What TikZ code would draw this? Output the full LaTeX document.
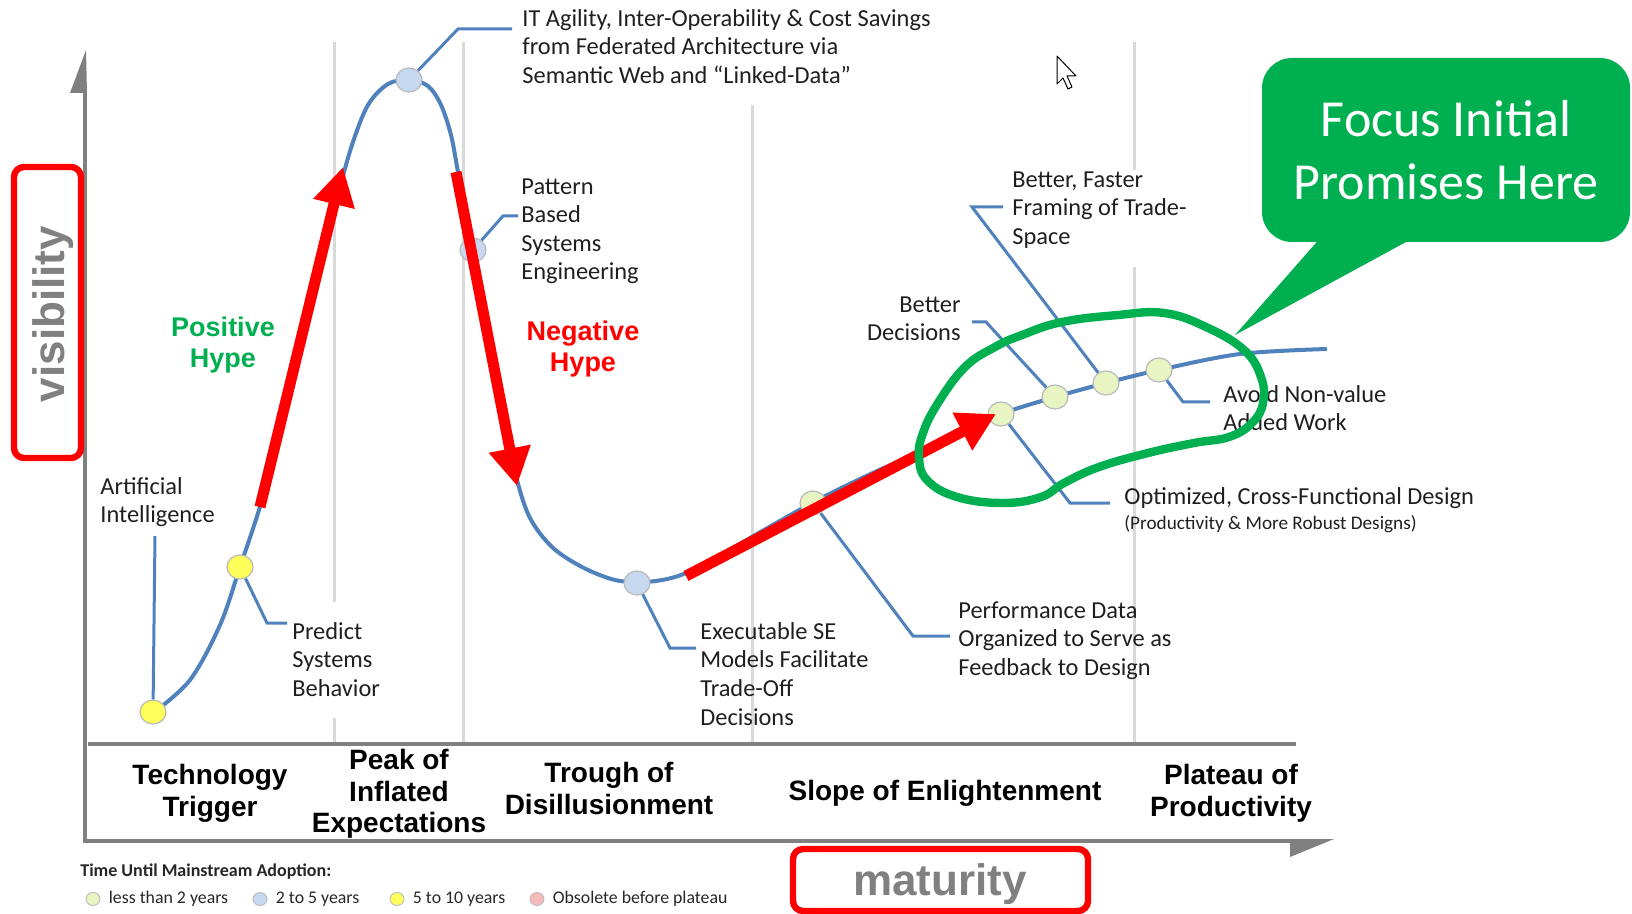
\documentclass[tikz,border=0pt]{standalone}
\usepackage{fontspec}
\setmainfont{Carlito}
\setsansfont{Liberation Sans}
\usetikzlibrary{positioning,arrows.meta,shapes.geometric}
\definecolor{curveblue}{RGB}{79,129,189}
\definecolor{hypered}{RGB}{255,0,0}
\definecolor{promisegreen}{RGB}{0,176,80}
\definecolor{axisgray}{RGB}{128,128,128}
\definecolor{gridgray}{RGB}{217,217,217}
\definecolor{dotyellow}{RGB}{255,255,90}
\definecolor{dotblue}{RGB}{198,217,241}
\definecolor{dotgreen}{RGB}{232,245,195}
\definecolor{dotpink}{RGB}{246,186,186}

\begin{document}
\begin{tikzpicture}[
    x=0.5pt, y=-0.5pt,
    sep/.style={draw=gridgray, line width=1.5pt},
    axis/.style={draw=axisgray, line width=2pt},
    hype/.style={draw=curveblue, line width=2pt},
    leader/.style={draw=curveblue, line width=1.5pt},
    dot/.style={ellipse, draw=gray!55, line width=0.6pt, minimum width=13pt,
                minimum height=12pt, inner sep=0pt},
    note/.style={font=\fontsize{12.2}{14.3}\selectfont, text=black!88, align=left, inner sep=0pt},
    phase/.style={font=\sffamily\bfseries\fontsize{14}{15.7}\selectfont, align=center,
                  inner sep=0pt, anchor=north},
    hypetxt/.style={font=\sffamily\bfseries\fontsize{13.5}{15.5}\selectfont, align=center, inner sep=0pt},
    hypearrow/.style={draw=hypered, line width=5.5pt, -{Triangle[length=19pt, width=20pt]}},
    redbox/.style={draw=hypered, line width=3.2pt, rounded corners=5pt},
    axislabel/.style={font=\sffamily\bfseries\fontsize{22}{26}\selectfont, text=axisgray, inner sep=0pt},
    legdot/.style={ellipse, draw=gray!50, line width=0.5pt, minimum width=7pt,
                   minimum height=6.5pt, inner sep=0pt},
    legtxt/.style={font=\fontsize{8.9}{10}\selectfont, text=black!85, inner sep=0pt}
]
\useasboundingbox (0,0) rectangle (1632,914);

% phase separators
\draw[sep] (334,42) -- (334,602);
\draw[sep] (334,718) -- (334,744);
\draw[sep] (463,42) -- (463,744);
\draw[sep] (752,105) -- (752,744);
\draw[sep] (1134,42) -- (1134,170);
\draw[sep] (1134,267) -- (1134,744);

% axes
\draw[axis] (85,93) -- (85,841) -- (1292,841);
\draw[axis] (88,744) -- (1296,744);
\fill[axisgray] (86,50) -- (87,93) -- (70,93) -- cycle;
\fill[axisgray] (1290,839) -- (1334,839) -- (1290,857) -- cycle;

% hype curve
\draw[hype] plot[smooth, tension=0.55] coordinates {
    (153,713) (190,680) (220,625) (240,567) (262,500) (282,422) (302,343)
    (322,260) (338,195) (352,145) (368,105) (388,84) (409,80) (428,86)
    (441,105) (451,135) (458,172) (468,225) (478,278) (488,330) (498,383)
    (508,435) (517,480) (530,518) (552,547) (582,567) (615,580) (645,582)
    (675,577) (705,564) (750,538) (812,503) (860,479) (910,456) (955,435)
    (1001,414) (1055,397) (1106,383) (1159,370) (1240,354) (1327,349)};

% dots on the curve
\node[dot, fill=dotyellow] (ai) at (153,712) {};
\node[dot, fill=dotyellow] (predict) at (240,567) {};
\node[dot, fill=dotblue] (peak) at (409,80) {};
\node[dot, fill=dotblue] (pattern) at (473,250) {};
\node[dot, fill=dotblue] (trough) at (637,583) {};
\node[dot, fill=dotgreen] (slopedot) at (813,503) {};
\node[dot, fill=dotgreen] (p1) at (1001,414) {};
\node[dot, fill=dotgreen] (p2) at (1055,397) {};
\node[dot, fill=dotgreen] (p3) at (1106,383) {};
\node[dot, fill=dotgreen] (p4) at (1159,370) {};

% notes
\node[note, anchor=north west] (lblIT) at (522,9)
    {IT Agility, Inter-Operability \& Cost Savings\\from Federated Architecture via\\Semantic Web and “Linked-Data”};
\node[note, anchor=north west] (lblPattern) at (521,178)
    {Pattern\\Based\\Systems\\Engineering};
\node[note, anchor=north west] (lblAI) at (100,477) {Artificial\\Intelligence};
\node[note, anchor=north west] (lblPredict) at (292,622) {Predict\\Systems\\Behavior};
\node[note, anchor=north west] (lblExec) at (700,622)
    {Executable SE\\Models Facilitate\\Trade-Off\\Decisions};
\node[note, anchor=north west] (lblPerf) at (958,601)
    {Performance Data\\Organized to Serve as\\Feedback to Design};
\node[note, anchor=north east, align=right] (lblBetter) at (961,296) {Better\\Decisions};
\node[note, anchor=north west] (lblFaster) at (1012,171)
    {Better, Faster\\Framing of Trade-\\Space};
\node[note, anchor=north west] (lblAvoid) at (1223,385) {Avoid Non-value\\Added Work};
\node[note, anchor=north west] (lblOpt) at (1124,487) {Optimized, Cross-Functional Design};
\node[note, anchor=north west, font=\fontsize{9.6}{11}\selectfont] (lblOptSub) at (1124,515)
    {(Productivity \& More Robust Designs)};

% leader ends
\coordinate (kIT) at (512,29);
\coordinate (kPat) at (518,216);
\coordinate (kAI) at (155,536);
\coordinate (kPre) at (287,623);
\coordinate (kEx) at (696,648);
\coordinate (kPerf) at (950,636);
\coordinate (kBet) at (972,322);
\coordinate (kFast) at (1003,207);
\coordinate (kAv) at (1210,402);
\coordinate (kOpt) at (1110,503);

\draw[leader] (peak) -- (458,29) -- (kIT);
\draw[leader] (pattern) -- (503,216) -- (kPat);
\draw[leader] (ai) -- (kAI);
\draw[leader] (predict) -- (267,623) -- (kPre);
\draw[leader] (trough) -- (670,648) -- (kEx);
\draw[leader] (slopedot) -- (913,636) -- (kPerf);
\draw[leader] (p2) -- (986,322) -- (kBet);
\draw[leader] (p3) -- (972,207) -- (kFast);
\draw[leader] (p4) -- (1183,402) -- (kAv);
\draw[leader] (p1) -- (1070,503) -- (kOpt);

% hype labels
\node[hypetxt, text=promisegreen] (poshype) at (223,345) {Positive\\Hype};
\node[hypetxt, text=hypered] (neghype) at (583,349) {Negative\\Hype};

% red arrows
\coordinate (a1s) at (260,507);
\coordinate (a1e) at (343,167);
\coordinate (a2s) at (456,172);
\coordinate (a2e) at (517,486);
\coordinate (a3s) at (686,576);
\coordinate (a3e) at (996,414);
\draw[hypearrow] (a1s) -- (a1e);
\draw[hypearrow] (a2s) -- (a2e);
\draw[hypearrow] (a3s) -- (a3e);

% phases
\node[phase] (ph1) at (210,764) {Technology\\Trigger};
\node[phase] (ph2) at (399,749) {Peak of\\Inflated\\Expectations};
\node[phase] (ph3) at (609,762) {Trough of\\Disillusionment};
\node[phase] (ph4) at (945,780) {Slope of Enlightenment};
\node[phase] (ph5) at (1231,764) {Plateau of\\Productivity};

% axis labels
\draw[redbox] (14,167) rectangle (81,458);
\node[axislabel, rotate=90] (vis) at (53,314) {visibility};
\draw[redbox] (793,849) rectangle (1088,911);
\node[axislabel] (mat) at (940,884) {maturity};

% legend
\node[legtxt, font=\bfseries\fontsize{9}{10}\selectfont, anchor=west] (legtitle) at (80,872)
    {Time Until Mainstream Adoption:};
\node[legdot, fill=dotgreen] (lg1) at (93,899) {};
\node[legtxt, right=4pt of lg1] (lt1) {less than 2 years};
\node[legdot, fill=dotblue] (lg2) at (260,899) {};
\node[legtxt, right=4pt of lg2] (lt2) {2 to 5 years};
\node[legdot, fill=dotyellow] (lg3) at (397,899) {};
\node[legtxt, right=4pt of lg3] (lt3) {5 to 10 years};
\node[legdot, fill=dotpink] (lg4) at (537,899) {};
\node[legtxt, right=4pt of lg4] (lt4) {Obsolete before plateau};

% mouse pointer
\draw[fill=white, line width=0.5pt, line join=round] (1057,56) -- (1057,84) -- (1063,78) -- (1068,89)
    -- (1072,87) -- (1067,76) -- (1076,76) -- cycle;

% focus loop
\draw[promisegreen, line width=4.2pt, line join=round] plot[smooth cycle, tension=0.7] coordinates {
    (1062,322) (1118,315) (1164,313) (1206,327) (1244,350) (1261,377) (1263,403)
    (1252,423) (1229,437) (1194,443) (1148,453) (1099,467) (1064,483) (1041,497)
    (1003,503) (957,497) (927,480) (919,457) (923,433) (938,403) (965,367)
    (995,347) (1022,335)};

% callout
\coordinate (focustip) at (1235,335);
\fill[promisegreen] (1322,236) -- (focustip) -- (1417,236) -- cycle;
\node[fill=promisegreen, rounded corners=15pt, minimum width=184pt, minimum height=92pt,
      text=white, align=center, font=\fontsize{26}{31.5}\selectfont] (focus) at (1446,150)
    {Focus Initial\\Promises Here};

\end{tikzpicture}
\end{document}
